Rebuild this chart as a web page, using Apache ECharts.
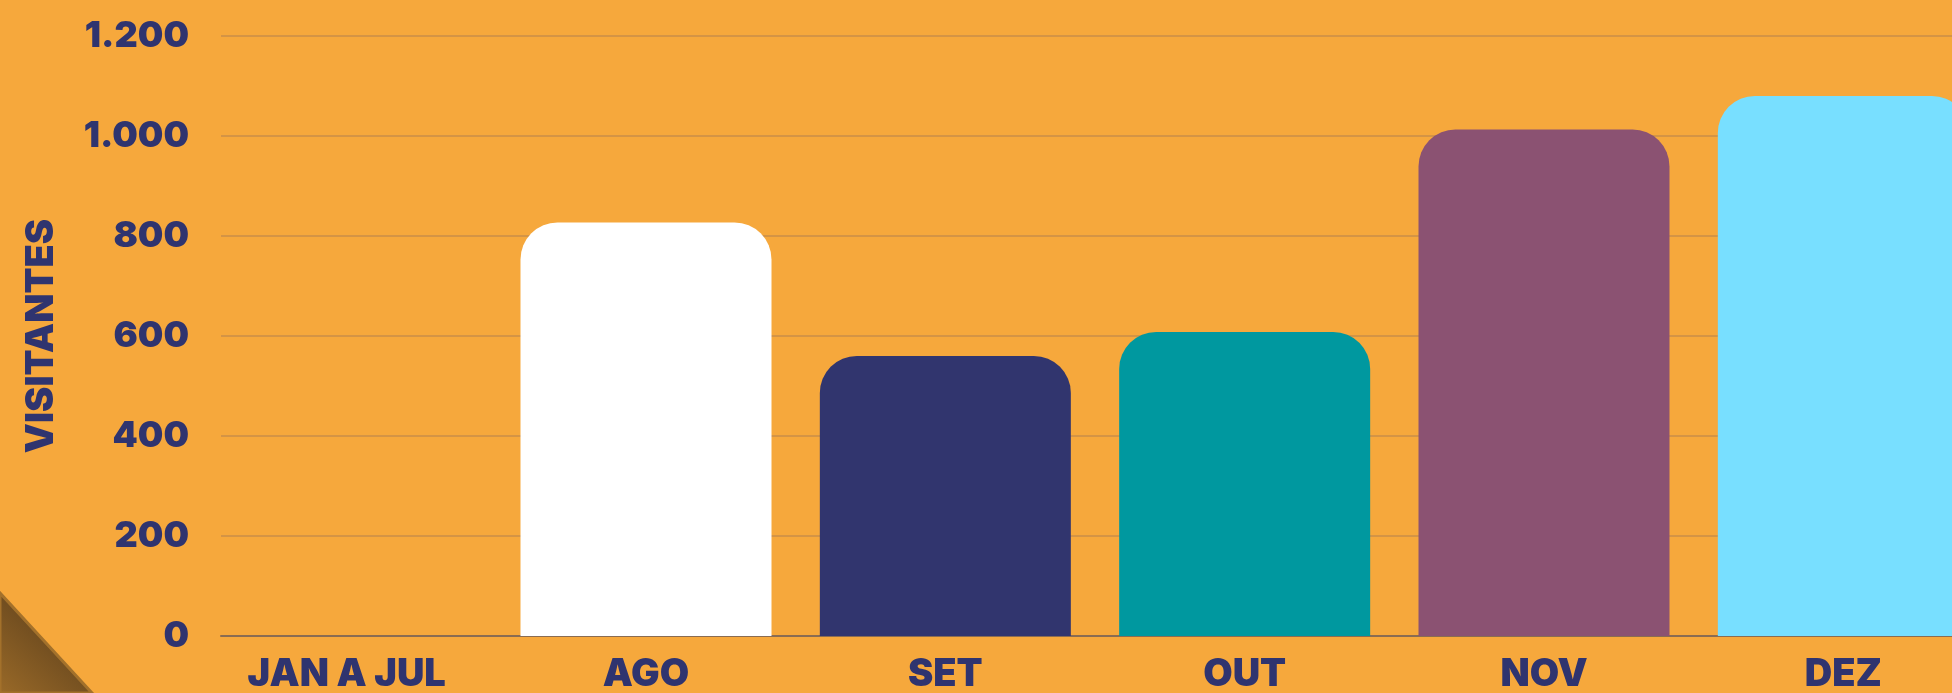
<!DOCTYPE html>
<html>
<head>
<meta charset="utf-8">
<title>Visitantes</title>
<script src="https://cdn.jsdelivr.net/npm/echarts@6/dist/echarts.min.js"></script>
<style>
  html, body { margin: 0; padding: 0; background: #f6a83c; }
  #chart { width: 1952px; height: 693px; }
</style>
</head>
<body>
<div id="chart"></div>
<script>
// dados do gráfico
const meses = ["JAN A JUL", "AGO", "SET", "OUT", "NOV", "DEZ"];
const visitantes = [0, 827, 560, 608, 1013, 1080];
const cores = ["#31356e", "#ffffff", "#31356e", "#00989f", "#8b5272", "#78dfff"];
const ticksY = [0, 200, 400, 600, 800, 1000, 1200];

const azul = "#2f346f";
const fonte = "Inter";

// 1.200 -> com ponto de milhar
function milhar(v) {
  return String(v).replace(/\B(?=(\d{3})+(?!\d))/g, ".");
}

const myChart = echarts.init(document.getElementById("chart"));

myChart.setOption({
  backgroundColor: "#f6a83c",
  animation: false,
  // canto dobrado no canto inferior esquerdo
  graphic: [
    {
      type: "polygon",
      shape: { points: [[0, 593], [92, 693], [0, 693]] },
      style: {
        fill: new echarts.graphic.LinearGradient(0, 1, 1, 0, [
          { offset: 0, color: "#9a6a28" },
          { offset: 0.6, color: "#6c4a1f" },
          { offset: 1, color: "#5f411b" },
        ]),
        stroke: "#a3712b",
        lineWidth: 3,
      },
      z: 100,
    },
  ],
  grid: [
    // grid das barras (categorias) - passa da borda direita
    { left: 197, top: 36, width: 1796, bottom: 57, outerBoundsMode: "none" },
    // grid das linhas e rótulos do eixo y
    { left: 221, top: 36, right: 0, bottom: 57, outerBoundsMode: "none" },
  ],
  xAxis: [
    {
      type: "category",
      gridIndex: 0,
      data: meses,
      axisLine: { show: false },
      axisTick: { show: false },
      axisLabel: {
        color: azul,
        fontFamily: fonte,
        fontWeight: 900,
        fontSize: 38,
        margin: 20,
      },
    },
    {
      type: "value",
      gridIndex: 1,
      min: 0,
      max: 1,
      axisLine: { show: true, lineStyle: { color: "#8a6c52", width: 2 } },
      axisTick: { show: false },
      axisLabel: { show: false },
      splitLine: { show: false },
    },
  ],
  yAxis: [
    { type: "value", gridIndex: 0, min: 0, max: 1200, show: false },
    {
      type: "value",
      gridIndex: 1,
      min: ticksY[0],
      max: ticksY[ticksY.length - 1],
      interval: 200,
      name: "VISITANTES",
      nameLocation: "middle",
      nameRotate: 90,
      nameGap: 160,
      nameTextStyle: {
        color: azul,
        fontFamily: fonte,
        fontWeight: 900,
        fontSize: 38,
      },
      axisLine: { show: false },
      axisTick: { show: false },
      axisLabel: {
        color: azul,
        fontFamily: fonte,
        fontWeight: 900,
        fontSize: 36,
        margin: 32,
        formatter: milhar,
      },
      splitLine: { lineStyle: { color: "#c98e48", width: 1.5 } },
    },
  ],
  series: [
    {
      type: "bar",
      xAxisIndex: 0,
      yAxisIndex: 0,
      barWidth: 251,
      data: visitantes.map((v, i) => ({
        value: v,
        itemStyle: { color: cores[i], borderRadius: [37, 37, 0, 0] },
      })),
      z: 3,
    },
  ],
});
</script>
</body>
</html>
